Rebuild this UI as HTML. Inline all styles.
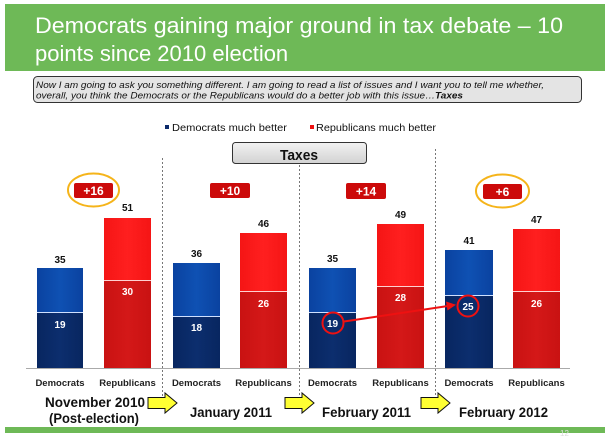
<!DOCTYPE html>
<html><head><meta charset="utf-8"><style>
html,body{margin:0;padding:0;background:#fff;}
svg{display:block;}
</style></head><body>
<svg width="611" height="441" viewBox="0 0 611 441" xmlns="http://www.w3.org/2000/svg" font-family="Liberation Sans, Arial, sans-serif">
<defs>
<linearGradient id="bl" x1="0" x2="1" y1="0" y2="0"><stop offset="0" stop-color="#0a42a0"/><stop offset="0.5" stop-color="#0f51b3"/><stop offset="1" stop-color="#0a42a0"/></linearGradient>
<linearGradient id="bd" x1="0" x2="1" y1="0" y2="0"><stop offset="0" stop-color="#082660"/><stop offset="0.5" stop-color="#0c2e6e"/><stop offset="1" stop-color="#082660"/></linearGradient>
<linearGradient id="rl" x1="0" x2="1" y1="0" y2="0"><stop offset="0" stop-color="#f51515"/><stop offset="0.5" stop-color="#ff1f1f"/><stop offset="1" stop-color="#f51515"/></linearGradient>
<linearGradient id="rd" x1="0" x2="1" y1="0" y2="0"><stop offset="0" stop-color="#c91212"/><stop offset="0.5" stop-color="#d41818"/><stop offset="1" stop-color="#c91212"/></linearGradient>
<linearGradient id="tx" x1="0" x2="0" y1="0" y2="1"><stop offset="0" stop-color="#f2f2f2"/><stop offset="1" stop-color="#d2d2d2"/></linearGradient>
</defs>
<!-- header -->
<rect x="5" y="4" width="600" height="67" fill="#6eb957"/>
<text x="35" y="33" font-size="22" fill="#fff" textLength="528" lengthAdjust="spacingAndGlyphs">Democrats gaining major ground in tax debate – 10</text>
<text x="35" y="61" font-size="22" fill="#fff">points since 2010 election</text>
<!-- question box -->
<rect x="33.5" y="76.5" width="548" height="26" rx="4" fill="#e4e4e4" stroke="#333" stroke-width="1"/>
<text x="36" y="88" font-size="9" font-style="italic" fill="#111" textLength="508" lengthAdjust="spacingAndGlyphs">Now I am going to ask you something different. I am going to read a list of issues and I want you to tell me whether,</text>
<text x="36" y="98.5" font-size="9" font-style="italic" fill="#111" textLength="427" lengthAdjust="spacingAndGlyphs">overall, you think the Democrats or the Republicans would do a better job with this issue…<tspan font-weight="bold">Taxes</tspan></text>
<!-- legend -->
<rect x="165" y="125" width="4" height="4" fill="#0b2a6a"/>
<text x="172" y="131" font-size="10" fill="#111" textLength="115" lengthAdjust="spacingAndGlyphs">Democrats much better</text>
<rect x="310" y="125" width="4" height="4" fill="#ee1111"/>
<text x="316" y="131" font-size="10" fill="#111" textLength="120" lengthAdjust="spacingAndGlyphs">Republicans much better</text>
<!-- dashed lines -->
<g stroke="#777" stroke-width="1" stroke-dasharray="2,2">
<line x1="162.5" y1="158" x2="162.5" y2="398"/>
<line x1="299.5" y1="165" x2="299.5" y2="398"/>
<line x1="435.5" y1="149" x2="435.5" y2="398"/>
</g>
<!-- Taxes box -->
<rect x="232.5" y="142.5" width="134" height="21" rx="3" fill="url(#tx)" stroke="#333" stroke-width="1"/>
<text x="280" y="160" font-size="15" font-weight="bold" fill="#111" textLength="38" lengthAdjust="spacingAndGlyphs">Taxes</text>
<!-- baseline -->
<line x1="26" y1="368.5" x2="570" y2="368.5" stroke="#aaa" stroke-width="1"/>
<!-- bars -->
<g>
<rect x="37" y="268" width="46" height="44" fill="url(#bl)"/><rect x="37" y="313" width="46" height="55" fill="url(#bd)"/><line x1="37" y1="312.5" x2="83" y2="312.5" stroke="#cfe0ff" stroke-width="1"/>
<rect x="104" y="218" width="47" height="62" fill="url(#rl)"/><rect x="104" y="281" width="47" height="87" fill="url(#rd)"/><line x1="104" y1="280.5" x2="151" y2="280.5" stroke="#ffd0d0" stroke-width="1"/>

<rect x="173" y="263" width="47" height="53" fill="url(#bl)"/><rect x="173" y="317" width="47" height="51" fill="url(#bd)"/><line x1="173" y1="316.5" x2="220" y2="316.5" stroke="#cfe0ff" stroke-width="1"/>
<rect x="240" y="233" width="47" height="58" fill="url(#rl)"/><rect x="240" y="292" width="47" height="76" fill="url(#rd)"/><line x1="240" y1="291.5" x2="287" y2="291.5" stroke="#ffd0d0" stroke-width="1"/>

<rect x="309" y="268" width="47" height="44" fill="url(#bl)"/><rect x="309" y="313" width="47" height="55" fill="url(#bd)"/><line x1="309" y1="312.5" x2="356" y2="312.5" stroke="#cfe0ff" stroke-width="1"/>
<rect x="377" y="224" width="47" height="62" fill="url(#rl)"/><rect x="377" y="287" width="47" height="81" fill="url(#rd)"/><line x1="377" y1="286.5" x2="424" y2="286.5" stroke="#ffd0d0" stroke-width="1"/>

<rect x="445" y="250" width="48" height="45" fill="url(#bl)"/><rect x="445" y="296" width="48" height="72" fill="url(#bd)"/><line x1="445" y1="295.5" x2="493" y2="295.5" stroke="#cfe0ff" stroke-width="1"/>
<rect x="513" y="229" width="47" height="62" fill="url(#rl)"/><rect x="513" y="292" width="47" height="76" fill="url(#rd)"/><line x1="513" y1="291.5" x2="560" y2="291.5" stroke="#ffd0d0" stroke-width="1"/>
</g>
<!-- value labels -->
<g font-size="10" font-weight="bold" fill="#111" text-anchor="middle">
<text x="60" y="263">35</text><text x="127.5" y="211">51</text>
<text x="196.5" y="257">36</text><text x="263.5" y="227">46</text>
<text x="332.5" y="262">35</text><text x="400.5" y="218">49</text>
<text x="469" y="244">41</text><text x="536.5" y="223">47</text>
</g>
<g font-size="10" font-weight="bold" fill="#fff" text-anchor="middle">
<text x="60" y="328">19</text><text x="127.5" y="295">30</text>
<text x="196.5" y="331">18</text><text x="263.5" y="307">26</text>
<text x="332.5" y="327">19</text><text x="400.5" y="301">28</text>
<text x="468" y="310">25</text><text x="536.5" y="307">26</text>
</g>
<!-- red circles & arrow -->
<circle cx="333" cy="323" r="10.5" fill="none" stroke="#ee1111" stroke-width="2"/>
<circle cx="468" cy="306" r="10.5" fill="none" stroke="#ee1111" stroke-width="2"/>
<line x1="344" y1="321.5" x2="448" y2="306" stroke="#ee1111" stroke-width="2"/>
<polygon points="456,304.8 446,301.5 447.5,310.5" fill="#ee1111"/>
<!-- badges -->
<g>
<rect x="74" y="183" width="39" height="15" rx="2" fill="#cc0a0a"/>
<rect x="210" y="183" width="40" height="15" rx="2" fill="#cc0a0a"/>
<rect x="346" y="183" width="40" height="16" rx="2" fill="#cc0a0a"/>
<rect x="483" y="184" width="39" height="15" rx="2" fill="#cc0a0a"/>
</g>
<g font-size="12" font-weight="bold" fill="#fff" text-anchor="middle">
<text x="93.5" y="195">+16</text><text x="230" y="195">+10</text><text x="366" y="195.5">+14</text><text x="502.5" y="196">+6</text>
</g>
<ellipse cx="93.5" cy="190" rx="25.5" ry="16.5" fill="none" stroke="#f5b41a" stroke-width="2"/>
<ellipse cx="502.5" cy="191" rx="26.5" ry="16.5" fill="none" stroke="#f5b41a" stroke-width="2"/>
<!-- category labels -->
<g font-size="9.5" font-weight="bold" fill="#222" text-anchor="middle">
<text x="60" y="386">Democrats</text><text x="127.5" y="386">Republicans</text>
<text x="196.5" y="386">Democrats</text><text x="263.5" y="386">Republicans</text>
<text x="332.5" y="386">Democrats</text><text x="400.5" y="386">Republicans</text>
<text x="469" y="386">Democrats</text><text x="536.5" y="386">Republicans</text>
</g>
<!-- period labels -->
<g font-size="13.5" font-weight="bold" fill="#111">
<text x="45" y="407" textLength="100" lengthAdjust="spacingAndGlyphs">November 2010</text>
<text x="49" y="423" textLength="90" lengthAdjust="spacingAndGlyphs">(Post-election)</text>
<text x="190" y="417" textLength="82" lengthAdjust="spacingAndGlyphs">January 2011</text>
<text x="322" y="417" textLength="89" lengthAdjust="spacingAndGlyphs">February 2011</text>
<text x="459" y="417" textLength="89" lengthAdjust="spacingAndGlyphs">February 2012</text>
</g>
<!-- yellow arrows -->
<g fill="#ffff33" stroke="#111" stroke-width="1" stroke-linejoin="miter">
<polygon points="148,397.5 165,397.5 165,393 177,403 165,413 165,408.5 148,408.5"/>
<polygon points="285,397.5 302,397.5 302,393 314,403 302,413 302,408.5 285,408.5"/>
<polygon points="421,397.5 438,397.5 438,393 450,403 438,413 438,408.5 421,408.5"/>
</g>
<!-- bottom bar -->
<rect x="5" y="427" width="600" height="6" fill="#6eb957"/>
<text x="560" y="436" font-size="8" fill="#ddd">12</text>
</svg>
</body></html>
